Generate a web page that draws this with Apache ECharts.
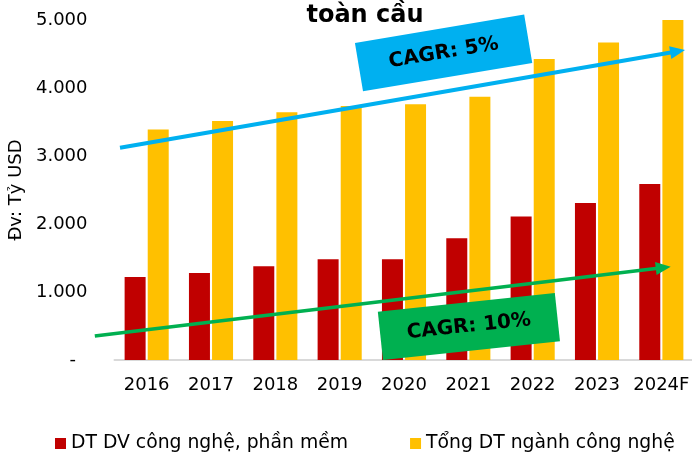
<!DOCTYPE html>
<html>
<head>
<meta charset="utf-8">
<script src="https://cdn.jsdelivr.net/npm/echarts@6/dist/echarts.min.js"></script>
<style>
html,body{margin:0;padding:0;background:#fff;}
#chart{width:692px;height:455px;}
</style>
</head>
<body>
<div id="chart"></div>
<script>
// ---- data ----
var years = ['2016', '2017', '2018', '2019', '2020', '2021', '2022', '2023', '2024F'];
var seriesNames = ['DT DV công nghệ, phần mềm', 'Tổng DT ngành công nghệ'];
var dtDvCongNghe = [1220, 1280, 1380, 1480, 1480, 1790, 2110, 2310, 2590];
var tongDtCongNghe = [3390, 3515, 3645, 3735, 3760, 3870, 4425, 4670, 5000];
var yTicks = [0, 1000, 2000, 3000, 4000, 5000];
var titleText = 'toàn cầu';
var axisName = 'Đv: Tỷ USD';
var cagrTotal = 'CAGR: 5%';
var cagrService = 'CAGR: 10%';

// ---- chart ----
var FONT = "'DejaVu Sans', Verdana, sans-serif";
var chart = echarts.init(document.getElementById('chart'), null, {renderer: 'canvas'});

function fmt(v) {
  if (v === 0) return '-  ';
  return String(v).replace(/\B(?=(\d{3})+(?!\d))/g, '.');
}

function arrow(x1, y1, x2, y2, color, lw) {
  var dx = x2 - x1, dy = y2 - y1;
  var len = Math.sqrt(dx * dx + dy * dy);
  var ux = dx / len, uy = dy / len;
  var px = -uy, py = ux;
  var hl = 15, hw = 6.5;
  var bx = x2 - ux * hl, by = y2 - uy * hl;
  return [
    {type: 'line', z: 10, shape: {x1: x1, y1: y1, x2: bx + ux * 2, y2: by + uy * 2},
     style: {stroke: color, lineWidth: lw}},
    {type: 'polygon', z: 10, shape: {points: [[x2, y2], [bx + px * hw, by + py * hw], [bx - px * hw, by - py * hw]]},
     style: {fill: color}}
  ];
}

function box(cx, cy, w, h, deg, color, text) {
  return {
    type: 'group', x: cx, y: cy, rotation: deg * Math.PI / 180, z: 11,
    children: [
      {type: 'rect', z: 11, shape: {x: -w / 2, y: -h / 2, width: w, height: h}, style: {fill: color}},
      {type: 'text', z: 12, x: 0, y: 0,
       style: {text: text, fill: '#000', font: 'bold 20px ' + FONT, textAlign: 'center', textVerticalAlign: 'middle'}}
    ]
  };
}

var graphics = []
  .concat(arrow(120, 147.7, 685, 50, '#00B0F0', 4))
  .concat(arrow(94.8, 336, 670.7, 266.7, '#00B050', 3.6));
graphics.push(box(443.6, 52.9, 171.6, 49, 9.5, '#00B0F0', cagrTotal));
graphics.push(box(468.9, 326.5, 178, 48.6, 6.1, '#00B050', cagrService));

chart.setOption({
  animation: false,
  backgroundColor: '#fff',
  title: {
    text: titleText, left: 365, top: 4, textAlign: 'center', padding: 0,
    textStyle: {fontFamily: FONT, fontWeight: 'bold', fontSize: 24, color: '#000'}
  },
  grid: {left: 114.5, top: 20, width: 579, height: 340, containLabel: false, outerBoundsMode: 'none'},
  legend: {
    data: seriesNames, left: 55, top: 434, itemWidth: 11, itemHeight: 11, itemGap: 62,
    icon: 'rect', padding: 0,
    textStyle: {fontFamily: FONT, fontSize: 18.8, color: '#000'}
  },
  xAxis: {
    type: 'category', data: years,
    axisLine: {lineStyle: {color: '#D9D9D9', width: 2}},
    axisTick: {show: false},
    axisLabel: {fontFamily: FONT, fontSize: 18, color: '#000', margin: 16, interval: 0, hideOverlap: false}
  },
  yAxis: {
    type: 'value', min: 0, max: 5000, interval: 1000,
    name: axisName, nameLocation: 'middle', nameGap: 87, nameRotate: 90,
    nameTextStyle: {fontFamily: FONT, fontSize: 18, color: '#000'},
    axisLine: {show: false}, axisTick: {show: false}, splitLine: {show: false},
    axisLabel: {fontFamily: FONT, fontSize: 18, color: '#000', margin: 27, formatter: fmt}
  },
  series: [
    {name: seriesNames[0], type: 'bar', data: dtDvCongNghe, barWidth: 21, barGap: '10%',
     itemStyle: {color: '#C00000'}},
    {name: seriesNames[1], type: 'bar', data: tongDtCongNghe, barWidth: 21, barGap: '10%',
     itemStyle: {color: '#FFC000'}}
  ],
  graphic: graphics
});
</script>
</body>
</html>
